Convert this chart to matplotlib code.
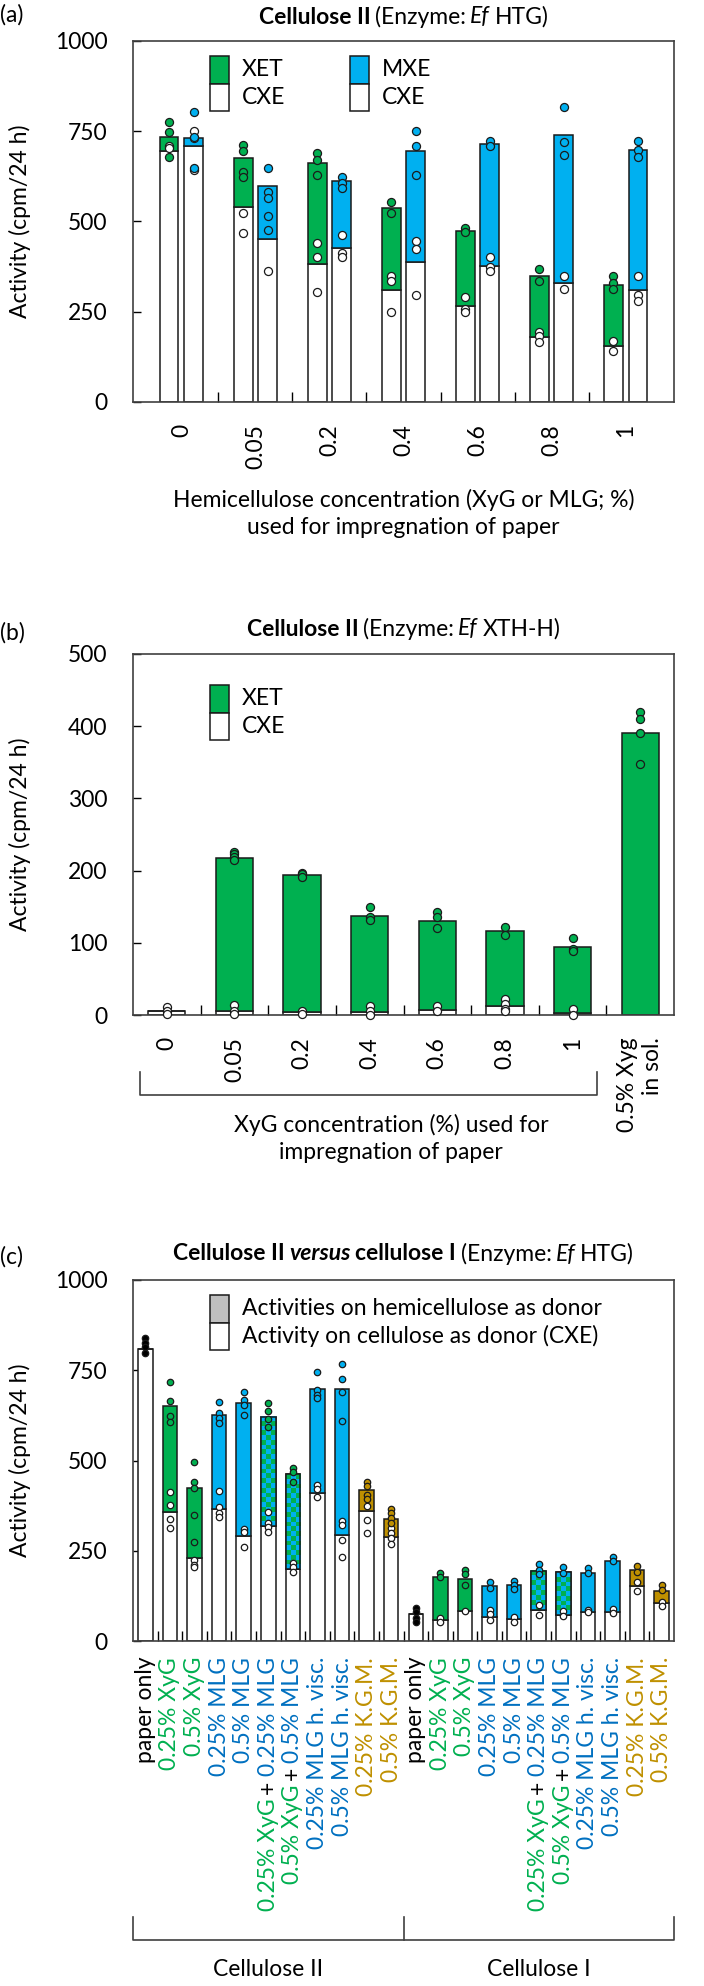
import numpy as np
import matplotlib
matplotlib.use('Agg')
import matplotlib.pyplot as plt
from matplotlib.patches import Rectangle
from matplotlib.colors import ListedColormap

plt.rcParams['font.family'] = ['Lato', 'DejaVu Sans']
FS = 16.5
GAP = 3.3

GREEN = '#00B050'
BLUE = '#00B0F0'
GOLD = '#BF9000'
GREY = '#BFBFBF'
EDGE = '#1a1a1a'
TXT = {'XyG': '#00B050', 'MLG': '#0070C0', 'K.G.M.': '#BF9000'}

# ---- (a) Ef HTG, cellulose II paper impregnated with XyG or MLG
conc_a = ['0', '0.05', '0.2', '0.4', '0.6', '0.8', '1']
xet_total_a = [735, 675, 661, 537, 474, 348, 323]
xet_cxe_a = [694, 541, 382, 311, 267, 179, 154]
mxe_total_a = [731, 597, 611, 696, 715, 740, 698]
mxe_cxe_a = [709, 451, 426, 387, 377, 329, 309]
xet_pts_a = [[777, 747, 680], [712, 694, 638, 624], [691, 671, 629], [553, 523],
             [482, 472], [368, 336], [350, 331, 313]]
xet_cxe_pts_a = [[708, 703], [523, 468], [440, 403, 304], [350, 334, 249],
                 [290, 257, 249], [194, 182, 165], [168, 140]]
mxe_pts_a = [[804, 735, 648], [648, 583, 565, 516, 477], [624, 608, 592], [751, 710, 629],
             [724, 708], [816, 721, 685], [724, 698, 680]]
mxe_cxe_pts_a = [[751, 731, 643], [362], [463, 412, 403], [445, 423, 297],
                 [403, 375, 362], [348, 314], [350, 297, 279]]

# ---- (b) Ef XTH-H, cellulose II paper impregnated with XyG
conc_b = ['0', '0.05', '0.2', '0.4', '0.6', '0.8', '1', '0.5% Xyg\nin sol.']
xet_total_b = [6, 218, 194, 137.5, 130, 116, 94, 391]
xet_cxe_b = [6, 6, 3.7, 4.6, 7, 12.5, 2.3, 0]
xet_pts_b = [[], [226, 223, 219, 214], [197, 195, 191], [149, 136, 131],
             [143, 136, 121], [122, 111], [106, 92, 88], [419, 410, 391, 347]]
cxe_pts_b = [[11, 6, 2], [14, 5, 2], [5, 2], [12, 5, 0], [12, 5],
             [22, 15, 9, 5], [8, 0], []]

# ---- (c) Ef HTG, cellulose II versus cellulose I
subs_c = ['paper only', '0.25% XyG', '0.5% XyG', '0.25% MLG', '0.5% MLG',
          '0.25% XyG + 0.25% MLG', '0.5% XyG + 0.5% MLG', '0.25% MLG h. visc.',
          '0.5% MLG h. visc.', '0.25% K.G.M.', '0.5% K.G.M.']
labels_c = subs_c + subs_c
total_c = [808, 652, 425, 626, 658, 621, 462, 698, 697, 418, 338,
           74, 176, 171, 152, 155, 195, 190, 187, 222, 197, 139]
cxe_c = [808, 358, 231, 367, 291, 319, 199, 411, 294, 361, 289,
         74, 58, 84, 67, 60, 86, 72, 81, 79, 152, 106]
hemi_pts_c = [[838, 826, 815, 798], [718, 665, 623, 607], [497, 441, 424, 349, 275],
              [663, 632, 617, 605], [690, 667, 655, 626], [658, 638, 614, 592],
              [478, 467, 441], [746, 695, 681, 672], [767, 725, 689, 609],
              [441, 429, 404, 392], [365, 354, 342, 328],
              [91, 79, 63, 54], [187, 178], [197, 186, 155], [164, 148], [166, 155, 144],
              [212, 198, 185], [206, 187], [201, 187], [234, 222], [209, 192], [155, 141]]
cxe_pts_c = [[], [414, 377, 337, 312], [224, 210, 204], [415, 372, 354, 343],
             [309, 303, 261], [356, 326, 317, 303], [215, 204, 192], [432, 420, 400],
             [333, 321, 280, 234], [374, 335, 300], [312, 300, 284, 269],
             [], [63, 54], [84], [86, 75, 58], [67, 54], [100, 72], [84, 70],
             [86, 79], [88, 77], [163, 139], [109, 97]]
dot_color_c = ['black', GREEN, GREEN, BLUE, BLUE, GREEN, GREEN, BLUE, BLUE, GOLD, GOLD,
               'black', GREEN, GREEN, BLUE, BLUE, BLUE, BLUE, BLUE, BLUE, GOLD, GOLD]
groups_c = ['Cellulose II', 'Cellulose I']

W, H = 704, 1986
fig = plt.figure(figsize=(W / 100, H / 100), dpi=100)


def axes_px(top, bottom, left=133, right=674):
    return fig.add_axes([left / W, 1 - bottom / H, (right - left) / W, (bottom - top) / H])


def frame(ax, ymax, step, xlim, bounds):
    ax.set_xlim(*xlim)
    ax.set_ylim(0, ymax)
    ax.set_yticks(np.arange(0, ymax + 1, step))
    ax.tick_params(axis='y', direction='in', length=6, width=1, pad=18.5, labelsize=FS)
    ax.set_xticks(bounds, minor=True)
    ax.tick_params(axis='x', which='minor', direction='in', length=7.5, width=1)
    ax.tick_params(axis='x', which='major', length=0, pad=16, labelsize=FS)
    for s in ax.spines.values():
        s.set_linewidth(1.2)
        s.set_color('#404040')
    ax.set_ylabel('Activity (cpm/24 h)', fontsize=FS)
    ax.yaxis.set_label_coords(-0.189, 0.5)


def stack(ax, x, cxe, total, color, width):
    ax.bar(x, cxe, width, color='white', edgecolor=EDGE, linewidth=1.1, zorder=2)
    ax.bar(x, np.subtract(total, cxe), width, bottom=cxe, color=color,
           edgecolor=EDGE, linewidth=1.1, zorder=2)


def dots(ax, x, groups, colors, ms):
    for xi, vals, c in zip(x, groups, colors):
        ax.plot(np.full(len(vals), xi), vals, 'o', ms=ms, mfc=c, mec=EDGE, mew=0.9,
                zorder=5, clip_on=False)


def key(ax, x0, ytop, colors, labels, w=0.0351, h=0.0762):
    for i, (c, l) in enumerate(zip(colors, labels)):
        y0 = ytop - (i + 1) * h
        ax.add_patch(Rectangle((x0, y0), w, h, transform=ax.transAxes, fc=c, ec=EDGE,
                               lw=1.1, clip_on=False, zorder=6))
        ax.text(x0 + w + 0.024, y0 + h / 2, l, transform=ax.transAxes, va='center',
                ha='left', fontsize=FS)


def rich(y_px, pieces, xc=403.5):
    # title made of differently styled pieces, centred over the plot box
    ts = [fig.text(0, 1 - y_px / H, s, ha='left', va='center_baseline', fontsize=FS, **kw)
          for s, kw in pieces]
    r = fig.canvas.get_renderer()
    ws = [t.get_window_extent(r).width for t in ts]
    gap = GAP * 100 / 72
    x = xc - (sum(ws) + gap * (len(ws) - 1)) / 2
    for t, w in zip(ts, ws):
        t.set_x(x / W)
        x += w + gap


BOLD = dict(fontweight='bold')
NORM = dict()
ITAL = dict(fontstyle='italic')
BITAL = dict(fontweight='bold', fontstyle='italic')

# ---------------- (a)
ax = axes_px(41, 402)
xa = np.arange(len(conc_a))
bw, off = 0.255, 0.167
stack(ax, xa - off, xet_cxe_a, xet_total_a, GREEN, bw)
stack(ax, xa + off, mxe_cxe_a, mxe_total_a, BLUE, bw)
dots(ax, xa - off, xet_cxe_pts_a, ['white'] * 7, 5.8)
dots(ax, xa - off, xet_pts_a, [GREEN] * 7, 5.8)
dots(ax, xa + off, mxe_cxe_pts_a, ['white'] * 7, 5.8)
dots(ax, xa + off, mxe_pts_a, [BLUE] * 7, 5.8)
frame(ax, 1000, 250, (-0.654, 6.654), xa[:-1] + 0.5)
ax.set_xticks(xa, conc_a, rotation=90)
key(ax, 0.1423, 0.958, [GREEN, 'white'], ['XET', 'CXE'])
key(ax, 0.401, 0.958, [BLUE, 'white'], ['MXE', 'CXE'])
ax.text(0.5, -0.310, 'Hemicellulose concentration (XyG or MLG; %)\nused for impregnation of paper',
        transform=ax.transAxes, ha='center', va='center', fontsize=FS, linespacing=1.35)
rich(15, [('Cellulose II', BOLD), ('(Enzyme:', NORM), ('Ef', ITAL), ('HTG)', NORM)])
fig.text(0.0, 1 - 15 / H, '(a)', ha='left', va='center', fontsize=FS)

# ---------------- (b)
ax = axes_px(654, 1015)
xb = np.arange(len(conc_b))
stack(ax, xb, xet_cxe_b, xet_total_b, GREEN, 0.55)
dots(ax, xb, cxe_pts_b, ['white'] * 8, 5.8)
dots(ax, xb, xet_pts_b, [GREEN] * 8, 5.8)
frame(ax, 500, 100, (-0.5, 7.5), xb[:-1] + 0.5)
ax.set_xticks(xb, conc_b, rotation=90)
ax.get_xticklabels()[-1].set_multialignment('right')
key(ax, 0.1423, 0.914, [GREEN, 'white'], ['XET', 'CXE'])
tr = ax.get_xaxis_transform()
ax.plot([-0.39, -0.39, 6.36, 6.36], [-0.158, -0.222, -0.222, -0.158], color='#404040',
        lw=1.2, transform=tr, clip_on=False)
ax.text(0.477, -0.342, 'XyG concentration (%) used for\nimpregnation of paper',
        transform=ax.transAxes, ha='center', va='center', fontsize=FS, linespacing=1.35)
rich(627, [('Cellulose II', BOLD), ('(Enzyme:', NORM), ('Ef', ITAL), ('XTH-H)', NORM)])
fig.text(0.0, 1 - 633 / H, '(b)', ha='left', va='center', fontsize=FS)

# ---------------- (c)
ax = axes_px(1280, 1641)
xc = np.arange(len(labels_c))
wc = 0.59
fills = []
for lab in labels_c:
    if '+' in lab:
        fills.append('mix')
    elif 'XyG' in lab:
        fills.append(GREEN)
    elif 'MLG' in lab:
        fills.append(BLUE)
    elif 'K.G.M.' in lab:
        fills.append(GOLD)
    else:
        fills.append('white')
check = ListedColormap([BLUE, GREEN])
for xi, lab, f, c0, t0 in zip(xc, labels_c, fills, cxe_c, total_c):
    if f == 'mix':
        stack(ax, [xi], [c0], [t0], BLUE, wc)
        nrow = max(2, int(round((t0 - c0) * 0.361 / 4.7)))
        board = np.add.outer(np.arange(nrow), np.arange(3)) % 2
        ax.imshow(board, extent=(xi - wc / 2, xi + wc / 2, c0, t0), cmap=check,
                  aspect='auto', interpolation='nearest', origin='lower', zorder=2.5)
        ax.bar(xi, t0 - c0, wc, bottom=c0, fill=False, edgecolor=EDGE, linewidth=1.1, zorder=3)
    else:
        stack(ax, [xi], [c0], [t0], f, wc)
dots(ax, xc, cxe_pts_c, ['white'] * len(xc), 4.6)
dots(ax, xc, hemi_pts_c, dot_color_c, 4.6)
frame(ax, 1000, 250, (-0.5, len(xc) - 0.5), xc[:-1] + 0.5)
ax.set_xticks([])
key(ax, 0.1423, 0.958, [GREY, 'white'],
    ['Activities on hemicellulose as donor', 'Activity on cellulose as donor (CXE)'])

tr = ax.get_xaxis_transform()
for xi, lab in zip(xc, labels_c):
    segs = []
    for j, part in enumerate(lab.split(' + ')):
        if j:
            segs.append(('+', 'black'))
        col = 'black'
        for k, v in TXT.items():
            if k in part:
                col = v
        segs.append((part, col))
    prev = None
    for s, col in reversed(segs):
        if prev is None:
            prev = ax.text(xi, -0.044, s, transform=tr, rotation=90, ha='center', va='top',
                           color=col, fontsize=FS)
        else:
            prev = ax.annotate(s, xy=(0.5, 0), xycoords=prev, xytext=(0, -GAP),
                               textcoords='offset points', rotation=90, ha='center', va='top',
                               color=col, fontsize=FS, annotation_clip=False)
n2 = len(subs_c)
ax.plot([-0.5, -0.5, len(xc) - 0.5, len(xc) - 0.5], [-0.765, -0.828, -0.828, -0.765],
        color='#404040', lw=1.2, transform=tr, clip_on=False)
ax.plot([n2 - 0.5, n2 - 0.5], [-0.765, -0.828], color='#404040', lw=1.2, transform=tr,
        clip_on=False)
for gi, g in enumerate(groups_c):
    ax.text(gi * n2 + (n2 - 1) / 2, -0.911, g, transform=tr, ha='center', va='center', fontsize=FS)
rich(1252, [('Cellulose II', BOLD), ('versus', BITAL), ('cellulose I', BOLD),
            ('(Enzyme:', NORM), ('Ef', ITAL), ('HTG)', NORM)])
fig.text(0.0, 1 - 1257 / H, '(c)', ha='left', va='center', fontsize=FS)

fig.savefig('out.png', dpi=100)
